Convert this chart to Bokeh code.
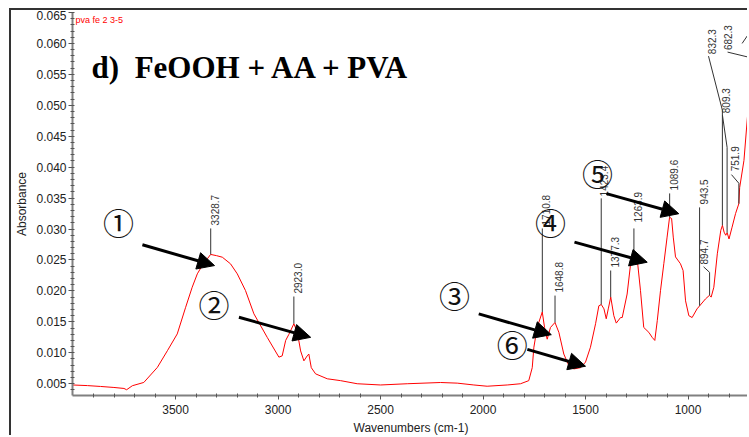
import math
from bokeh.plotting import figure
from bokeh.models import Range1d, FixedTicker, NumeralTickFormatter, Arrow, NormalHead, SingleIntervalTicker
from bokeh.core.properties import value
from bokeh.embed import file_html
from bokeh.resources import INLINE

# ---- spectrum (wavenumber cm-1, absorbance) ----
wavenumber = [4003, 3930, 3866, 3801, 3752, 3739, 3711, 3655, 3589, 3540, 3492, 3451, 3419, 3394, 3370,
              3345, 3329, 3300, 3272, 3232, 3199, 3159, 3118, 3053, 2996, 2980, 2963, 2947, 2923, 2906,
              2890, 2874, 2858, 2850, 2838, 2817, 2760, 2695, 2614, 2500, 2370, 2207, 2126, 2045, 1980,
              1882, 1817, 1777, 1760, 1752, 1736, 1711, 1700, 1687, 1671, 1649, 1630, 1606, 1581, 1557,
              1524, 1500, 1476, 1451, 1435, 1423, 1410, 1399, 1389, 1377, 1362, 1350, 1329, 1321, 1297,
              1280, 1272, 1264, 1248, 1232, 1216, 1191, 1175, 1162, 1150, 1134, 1118, 1102, 1090, 1080,
              1072, 1061, 1037, 1024, 1012, 996, 980, 956, 943, 915, 895, 887, 874, 857, 840,
              832, 824, 816, 809, 800, 785, 768, 752, 748, 727, 710, 700, 690]
absorbance = [0.0048, 0.0047, 0.00456, 0.0044, 0.00424, 0.00403, 0.00468, 0.00521, 0.00764, 0.01034, 0.01305,
              0.01736, 0.0206, 0.02276, 0.02411, 0.0252, 0.0259, 0.0257, 0.02545, 0.02438, 0.02276, 0.02006,
              0.0163, 0.0125, 0.0093, 0.0095, 0.0120, 0.0130, 0.0147, 0.0133, 0.0103, 0.0087, 0.0095, 0.0098,
              0.0076, 0.0066, 0.0058, 0.0055, 0.0050, 0.0048, 0.0050, 0.0052, 0.0051, 0.0048, 0.0046, 0.0048,
              0.0050, 0.0055, 0.0076, 0.0109, 0.0141, 0.0166, 0.0141, 0.0122, 0.0141, 0.0149, 0.0133, 0.0098,
              0.0079, 0.0074, 0.0076, 0.0085, 0.0109, 0.0147, 0.0176, 0.0178, 0.0171, 0.0155, 0.0171, 0.0190,
              0.0160, 0.0148, 0.0157, 0.0157, 0.0195, 0.0244, 0.0257, 0.0263, 0.0252, 0.0201, 0.0141, 0.0133,
              0.0125, 0.0120, 0.0152, 0.0201, 0.0244, 0.0287, 0.0319, 0.0317, 0.0287, 0.0255, 0.0244, 0.0233,
              0.0184, 0.0160, 0.0157, 0.0171, 0.0176, 0.0187, 0.0193, 0.0190, 0.0206, 0.0260, 0.0298, 0.0306,
              0.0295, 0.0290, 0.0294, 0.0284, 0.0303, 0.0325, 0.0341, 0.0367, 0.0411, 0.0481, 0.0519, 0.0540]

x_major_ticks = [3500, 3000, 2500, 2000, 1500, 1000]
x_minor_ticks = [3900, 3800, 3700, 3600, 3400, 3300, 3200, 3100, 2900, 2800, 2700, 2600, 2400, 2300,
                 2200, 2100, 1900, 1800, 1700, 1600, 1400, 1300, 1200, 1100, 900, 800, 700]

# ---- peak labels ----
peak_text = ["3328.7", "2923.0", "1710.8", "1648.8", "1423.4", "1377.3", "1263.9", "1089.6",
             "943.5", "894.7", "832.3", "809.3", "751.9", "682.3"]
peak_label_x = [3309, 2903, 1691, 1629, 1412, 1358, 1244, 1070, 924, 920, 885, 817, 773, 803]
peak_label_y = [0.03058, 0.01957, 0.03058, 0.01973, 0.03528, 0.02378, 0.03107, 0.03625, 0.03398,
                0.02427, 0.05827, 0.04872, 0.03933, 0.05892]
leader_xs = [[3328.7, 3328.7], [2923, 2923], [1710.8, 1710.8], [1648.8, 1648.8], [1423.4, 1423.4],
             [1377.3, 1377.3], [1263.9, 1263.9], [1089.6, 1089.6], [943.5, 943.5],
             [894.7, 894.7, 924], [832.3, 832.3, 900], [809.3, 809.3, 832], [751.9, 751.9, 788],
             [682.3, 682.3, 807], [736, 703]]
leader_ys = [[0.0259, 0.0301], [0.0147, 0.0191], [0.0166, 0.0301], [0.0149, 0.01925], [0.0178, 0.03496],
             [0.0190, 0.0233], [0.0263, 0.0301], [0.0319, 0.03576], [0.0176, 0.0335],
             [0.0193, 0.0230, 0.0239], [0.0306, 0.0492, 0.05795], [0.0294, 0.0432, 0.0484],
             [0.0341, 0.0374, 0.0388], [0.055, 0.0576, 0.0586], [0.0600, 0.0616]]

# ---- circled markers and arrows ----
circ_text = ["①", "②", "③", "④", "⑤", "⑥"]
circ_x = [3778, 3313, 2139, 1671, 1442, 1858]
circ_y = [0.03123, 0.0179, 0.01941, 0.03123, 0.03916, 0.01143]
arrow_x0 = [3662, 3191, 2021, 1784, 1554, 1398]
arrow_y0 = [0.02746, 0.01574, 0.01629, 0.01055, 0.02788, 0.03572]
arrow_x1 = [3310, 2841, 1667, 1500, 1199, 1045]
arrow_y1 = [0.0241, 0.0125, 0.01293, 0.00783, 0.02464, 0.03248]

title_text = "d)\u2002FeOOH + AA + PVA"
sample_text = "pva fe 2 3-5"

p = figure(width=738, height=427, output_backend="svg", toolbar_location=None,
           x_range=Range1d(4003, 700), y_range=Range1d(0.0031, 0.065),
           min_border_left=61, min_border_right=0, min_border_top=2, min_border_bottom=42,
           background_fill_color="#FFFFFF", border_fill_color="#FFFFFF",
           styles={"margin-left": "9px", "margin-top": "8px",
                   "border-left": "2px solid #333333", "border-top": "2px solid #333333"})
p.outline_line_color = None
p.xgrid.visible = False
p.ygrid.visible = False

p.line(wavenumber, absorbance, line_color="#FF0000", line_width=1)

p.multi_line(leader_xs, leader_ys, line_color="#333333", line_width=1)
p.text(peak_label_x, peak_label_y, text=peak_text, angle=math.pi / 2, text_align="left",
       text_baseline="middle", text_font=value("Liberation Sans"), text_font_size="10px",
       text_color="#333333")

for x0, y0, x1, y1 in zip(arrow_x0, arrow_y0, arrow_x1, arrow_y1):
    p.add_layout(Arrow(end=NormalHead(size=17, fill_color="black", line_color="black", line_width=1),
                       x_start=x0, y_start=y0, x_end=x1, y_end=y1, line_width=3, line_color="black"))

p.text(circ_x, circ_y, text=circ_text, text_align="center", text_baseline="middle",
       text_font=value("Noto Sans CJK JP"), text_font_size="31px", text_color="#111111")

p.text([3910], [0.05617], text=[title_text], text_align="left", text_baseline="alphabetic",
       text_font=value("Liberation Serif"), text_font_style="bold", text_font_size="31px",
       text_color="black")
p.text([3988], [0.06386], text=[sample_text], text_align="left", text_baseline="middle",
       text_font=value("Liberation Sans"), text_font_size="9px", text_color="#FF0000")

# axes
for ax in (p.xaxis[0], p.yaxis[0]):
    ax.axis_line_color = "#808080"
    ax.axis_line_width = 2
    ax.major_tick_line_color = "#555555"
    ax.minor_tick_line_color = "#555555"
    ax.major_label_text_font = "Liberation Sans"
    ax.major_label_text_font_size = "12px"
    ax.major_label_text_color = "#222222"
    ax.axis_label_text_font = "Liberation Sans"
    ax.axis_label_text_font_size = "12px"
    ax.axis_label_text_font_style = "normal"
    ax.axis_label_text_color = "#222222"
    ax.major_tick_out = 4
    ax.major_tick_in = 0
    ax.minor_tick_out = 2
    ax.minor_tick_in = 2

p.xaxis.ticker = FixedTicker(ticks=x_major_ticks, minor_ticks=x_minor_ticks)
p.yaxis.ticker = SingleIntervalTicker(interval=0.005, num_minor_ticks=5)
p.yaxis.formatter = NumeralTickFormatter(format="0.000")
p.xaxis.axis_label = "Wavenumbers (cm-1)"
p.yaxis.axis_label = "Absorbance"
p.xaxis.major_label_standoff = 5
p.xaxis.axis_label_standoff = 4
p.yaxis.major_label_standoff = 2
p.yaxis.axis_label_standoff = 4

open("out.html", "w").write(file_html(p, INLINE))
